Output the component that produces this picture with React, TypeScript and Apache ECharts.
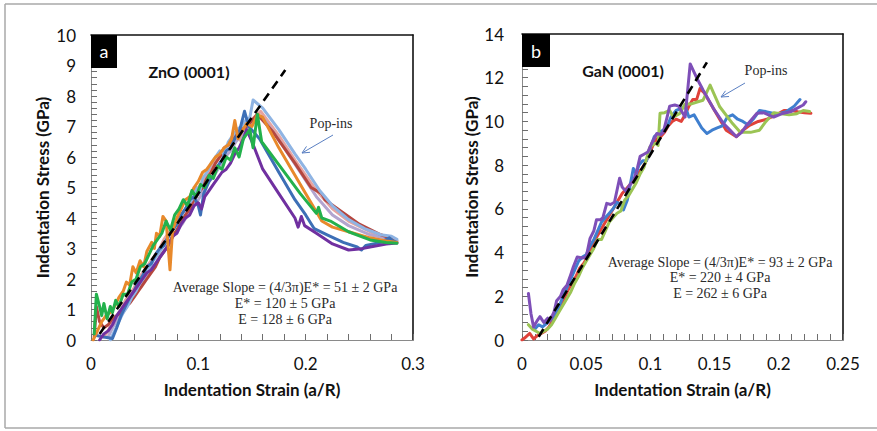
import React, { useEffect, useRef } from "react";
import * as echarts from "echarts";

// ---------- Panel a : ZnO (0001) ----------
const xTicksA = [0, 0.1, 0.2, 0.3];
const yTicksA = [0, 10];
const dashA: number[][] = [[0.008, 0.2], [0.181, 8.85]];

const purpleA: number[][] = [[0.008,0],[0.012,0.2],[0.016,0.3],[0.02,0.5],[0.024,0.8],[0.028,1.0],[0.032,1.2],[0.036,1.4],[0.04,1.6],[0.044,1.8],[0.048,2.0],[0.052,2.2],[0.056,2.3],[0.06,2.5],[0.064,2.7],[0.068,2.9],[0.072,3.1],[0.076,3.4],[0.08,3.5],[0.084,3.8],[0.088,4.0],[0.092,4.1],[0.096,4.4],[0.1,4.5],[0.103,4.3],[0.106,4.7],[0.11,4.9],[0.114,5.1],[0.118,5.3],[0.122,5.5],[0.126,5.6],[0.13,5.8],[0.134,6.1],[0.138,6.3],[0.142,6.6],[0.145,6.9],[0.15,6.5],[0.16,5.6],[0.175,4.8],[0.19,4.0],[0.193,3.7],[0.196,4.05],[0.199,3.75],[0.21,3.5],[0.225,3.15],[0.24,2.95],[0.25,2.98],[0.26,3.05],[0.275,3.15],[0.285,3.18]];
const blueA: number[][] = [[0.005,0.15],[0.012,0.1],[0.02,0.05],[0.024,0.4],[0.028,0.8],[0.032,1.1],[0.036,1.4],[0.04,1.6],[0.044,1.9],[0.048,2.1],[0.052,2.4],[0.056,2.5],[0.06,2.8],[0.064,3.0],[0.068,3.1],[0.072,3.4],[0.076,3.6],[0.08,3.8],[0.084,4.1],[0.088,4.3],[0.092,4.6],[0.096,4.7],[0.1,4.4],[0.102,4.1],[0.105,4.8],[0.11,5.2],[0.114,5.4],[0.118,5.7],[0.122,5.9],[0.126,6.2],[0.13,6.3],[0.134,6.6],[0.138,6.8],[0.143,7.5],[0.147,7.0],[0.157,6.6],[0.175,5.5],[0.19,4.6],[0.2,4.1],[0.208,3.65],[0.22,3.45],[0.235,3.2],[0.248,3.05],[0.252,2.95],[0.256,3.1],[0.27,3.2],[0.278,3.35],[0.281,3.25],[0.285,3.2]];
const greenA: number[][] = [[0.003,0.2],[0.005,1.5],[0.008,1.1],[0.01,0.8],[0.012,1.2],[0.015,0.7],[0.018,1.1],[0.02,0.9],[0.023,1.3],[0.026,1.1],[0.03,1.5],[0.034,1.5],[0.038,1.9],[0.042,2.0],[0.046,2.4],[0.05,2.5],[0.054,2.8],[0.058,3.1],[0.062,3.3],[0.066,3.5],[0.07,3.9],[0.074,3.6],[0.078,4.1],[0.082,4.3],[0.086,4.6],[0.09,4.4],[0.094,4.9],[0.098,4.7],[0.102,5.1],[0.106,5.0],[0.11,5.4],[0.114,5.3],[0.118,5.7],[0.122,5.6],[0.126,6.0],[0.13,5.9],[0.134,6.3],[0.138,6.0],[0.142,6.6],[0.148,6.9],[0.151,6.3],[0.155,7.4],[0.159,6.5],[0.176,5.7],[0.195,4.8],[0.21,4.15],[0.212,4.35],[0.215,4.0],[0.223,3.9],[0.24,3.55],[0.26,3.28],[0.275,3.2],[0.285,3.17]];
const orangeA: number[][] = [[0.002,0.0],[0.006,0.3],[0.01,0.6],[0.014,0.8],[0.018,0.9],[0.022,1.1],[0.026,1.4],[0.03,1.6],[0.033,1.9],[0.036,1.8],[0.039,2.4],[0.042,2.2],[0.0457,2.6],[0.049,2.4],[0.052,2.9],[0.0565,3.2],[0.059,3.0],[0.061,3.5],[0.064,3.4],[0.067,4.05],[0.07,3.9],[0.0736,2.3],[0.076,3.6],[0.08,4.0],[0.084,4.3],[0.088,4.6],[0.092,4.7],[0.096,5.0],[0.1,5.2],[0.104,5.5],[0.108,5.6],[0.112,5.8],[0.116,6.0],[0.12,6.1],[0.124,6.3],[0.128,6.4],[0.131,6.6],[0.134,7.2],[0.137,6.6],[0.14,6.8],[0.145,7.1],[0.15,7.0],[0.155,7.4],[0.16,7.3],[0.175,6.3],[0.19,5.4],[0.205,4.5],[0.215,3.9],[0.225,3.7],[0.24,3.55],[0.26,3.35],[0.275,3.25],[0.285,3.2]];
const lightBlueA: number[][] = [[0.018,0.0],[0.022,0.3],[0.026,0.6],[0.03,0.9],[0.034,1.1],[0.038,1.4],[0.042,1.6],[0.046,1.9],[0.05,2.1],[0.054,2.3],[0.058,2.6],[0.062,2.8],[0.066,3.0],[0.07,3.2],[0.074,3.5],[0.078,3.7],[0.082,3.9],[0.086,4.2],[0.09,4.4],[0.094,4.6],[0.098,5.0],[0.101,4.8],[0.104,5.3],[0.108,5.5],[0.112,5.8],[0.116,6.0],[0.12,6.2],[0.124,6.1],[0.128,6.5],[0.132,6.7],[0.136,6.9],[0.14,7.0],[0.144,7.2],[0.148,7.3],[0.151,7.87],[0.16,7.6],[0.175,6.9],[0.19,6.1],[0.2,5.6],[0.213,4.9],[0.225,4.4],[0.24,3.95],[0.255,3.65],[0.27,3.45],[0.28,3.4],[0.285,3.3]];
const salmonA: number[][] = [[0.012,0.1],[0.016,0.3],[0.02,0.6],[0.024,0.8],[0.028,1.0],[0.032,1.3],[0.036,1.5],[0.04,1.7],[0.044,2.0],[0.048,2.2],[0.052,2.4],[0.056,2.6],[0.06,2.8],[0.064,3.0],[0.068,3.3],[0.072,3.5],[0.076,3.7],[0.08,3.9],[0.084,4.1],[0.088,4.3],[0.092,4.5],[0.096,4.8],[0.1,5.0],[0.104,5.2],[0.108,5.4],[0.112,5.6],[0.116,5.9],[0.12,6.0],[0.124,6.2],[0.128,6.4],[0.132,6.6],[0.136,6.8],[0.14,6.5],[0.144,7.0],[0.148,7.2],[0.152,7.3],[0.158,7.5],[0.175,6.7],[0.19,5.9],[0.21,4.9],[0.225,4.3],[0.24,3.9],[0.26,3.55],[0.275,3.35],[0.285,3.25]];
const darkRedA: number[][] = [[0.003,0.1],[0.005,1.1],[0.008,0.6],[0.012,0.4],[0.016,0.5],[0.02,0.7],[0.024,0.8],[0.028,0.9],[0.032,1.1],[0.036,1.2],[0.04,1.4],[0.044,1.6],[0.048,1.8],[0.052,2.0],[0.056,2.2],[0.06,2.4],[0.064,2.7],[0.068,2.9],[0.072,3.1],[0.076,3.4],[0.08,3.6],[0.084,3.9],[0.088,4.1],[0.092,4.3],[0.096,4.6],[0.1,4.8],[0.104,5.0],[0.108,5.3],[0.112,5.5],[0.116,5.8],[0.12,6.0],[0.124,6.3],[0.128,6.4],[0.132,6.6],[0.136,6.8],[0.14,6.9],[0.145,7.0],[0.15,7.2],[0.155,7.4],[0.17,6.8],[0.19,5.8],[0.205,5.0],[0.215,4.8],[0.218,4.6],[0.23,4.3],[0.25,3.8],[0.27,3.45],[0.283,3.3]];
const lavenderA: number[][] = [[0.016,0.1],[0.02,0.4],[0.025,0.7],[0.03,0.9],[0.035,1.2],[0.04,1.5],[0.045,1.8],[0.05,2.0],[0.055,2.3],[0.06,2.5],[0.065,2.8],[0.07,3.0],[0.075,3.3],[0.08,3.6],[0.085,3.8],[0.09,4.1],[0.095,4.4],[0.1,4.6],[0.105,4.9],[0.11,5.2],[0.115,5.4],[0.12,5.7],[0.125,6.0],[0.13,6.2],[0.135,6.5],[0.14,6.7],[0.145,6.9],[0.15,7.1],[0.156,7.3],[0.162,7.2],[0.18,6.3],[0.195,5.5],[0.21,4.7],[0.225,4.1],[0.24,3.75],[0.26,3.45],[0.28,3.3],[0.285,3.25]];

// ---------- Panel b : GaN (0001) ----------
const dashB: number[][] = [[0.013, 0.15], [0.144, 12.7]];

const blueB: number[][] = [[0.01,0.5],[0.013,0.7],[0.016,0.6],[0.02,0.8],[0.024,1.0],[0.028,1.4],[0.032,2.0],[0.035,2.4],[0.038,2.8],[0.041,3.2],[0.044,3.6],[0.047,3.8],[0.05,3.9],[0.053,4.3],[0.056,4.6],[0.059,5.0],[0.062,5.4],[0.065,5.6],[0.068,5.8],[0.071,6.0],[0.074,6.3],[0.077,6.2],[0.079,5.95],[0.082,6.4],[0.0867,7.85],[0.089,7.6],[0.091,8.0],[0.094,8.2],[0.097,8.2],[0.1,8.8],[0.103,9.3],[0.107,9.5],[0.11,9.6],[0.113,9.75],[0.116,10.2],[0.12,10.5],[0.124,10.6],[0.127,10.7],[0.13,10.2],[0.134,10.3],[0.137,10.0],[0.14,9.7],[0.144,9.45],[0.148,9.6],[0.152,9.7],[0.156,9.8],[0.16,10.2],[0.164,10.3],[0.168,10.1],[0.172,10.0],[0.176,9.85],[0.18,10.1],[0.185,10.5],[0.19,10.45],[0.196,10.37],[0.2,10.35],[0.206,10.45],[0.212,10.7],[0.2165,11.0]];
const redB: number[][] = [[0.0,0.0],[0.002,0.09],[0.006,0.3],[0.009,0.05],[0.012,0.2],[0.015,0.3],[0.018,0.4],[0.021,0.6],[0.024,0.9],[0.027,1.2],[0.03,1.6],[0.033,1.9],[0.036,2.3],[0.039,2.6],[0.042,2.9],[0.045,3.3],[0.048,3.5],[0.051,3.8],[0.054,4.2],[0.057,4.6],[0.06,4.9],[0.063,5.2],[0.066,5.5],[0.069,5.8],[0.072,6.1],[0.075,6.4],[0.078,6.7],[0.081,6.9],[0.084,7.1],[0.087,7.3],[0.09,7.6],[0.093,7.8],[0.096,8.1],[0.099,8.5],[0.102,8.9],[0.105,9.2],[0.108,9.3],[0.111,9.5],[0.114,9.8],[0.117,10.0],[0.12,10.1],[0.124,10.0],[0.127,10.3],[0.13,10.7],[0.133,11.0],[0.136,11.0],[0.1386,11.5],[0.142,11.3],[0.146,10.9],[0.152,10.3],[0.159,9.6],[0.163,9.45],[0.167,9.3],[0.172,9.6],[0.1776,9.83],[0.184,10.0],[0.1906,10.1],[0.198,10.3],[0.204,10.5],[0.21,10.5],[0.2147,10.44],[0.22,10.4],[0.225,10.37]];
const greenB: number[][] = [[0.005,0.7],[0.008,0.5],[0.011,0.4],[0.014,0.3],[0.017,0.4],[0.02,0.5],[0.023,0.7],[0.026,1.0],[0.029,1.3],[0.032,1.6],[0.035,1.9],[0.038,2.2],[0.041,2.6],[0.044,2.9],[0.047,3.3],[0.05,3.6],[0.053,3.9],[0.056,4.2],[0.059,4.6],[0.062,4.6],[0.065,5.0],[0.068,5.4],[0.071,5.6],[0.074,5.8],[0.077,5.9],[0.08,6.4],[0.083,6.6],[0.086,6.9],[0.089,7.2],[0.092,7.6],[0.095,7.9],[0.0997,8.84],[0.104,9.0],[0.106,8.9],[0.1075,10.37],[0.111,10.4],[0.115,10.5],[0.118,10.2],[0.123,10.37],[0.127,10.8],[0.132,10.8],[0.137,10.9],[0.141,10.97],[0.1465,11.66],[0.154,10.67],[0.164,9.9],[0.17,9.5],[0.178,9.5],[0.185,9.6],[0.19,10.0],[0.196,10.4],[0.202,10.35],[0.208,10.3],[0.214,10.35],[0.219,10.5],[0.224,10.45]];
const purpleB: number[][] = [[0.005,2.13],[0.007,1.2],[0.009,0.6],[0.012,0.9],[0.014,1.07],[0.017,0.8],[0.02,1.0],[0.022,0.9],[0.025,1.3],[0.027,1.8],[0.03,2.0],[0.032,2.3],[0.035,2.5],[0.038,3.0],[0.04,3.35],[0.043,3.8],[0.047,3.75],[0.05,3.8],[0.053,4.65],[0.056,5.0],[0.058,5.5],[0.061,5.5],[0.063,5.6],[0.066,6.25],[0.069,6.2],[0.072,6.3],[0.076,7.4],[0.078,7.0],[0.081,6.8],[0.084,7.1],[0.087,7.3],[0.09,7.9],[0.092,8.4],[0.095,8.5],[0.098,8.6],[0.101,9.0],[0.105,9.45],[0.108,9.4],[0.11,9.5],[0.113,10.2],[0.115,10.7],[0.119,10.75],[0.122,10.7],[0.125,10.4],[0.127,10.2],[0.131,12.63],[0.136,12.0],[0.141,11.44],[0.149,10.6],[0.157,9.9],[0.162,9.6],[0.167,9.3],[0.171,9.5],[0.175,9.83],[0.179,10.1],[0.183,10.37],[0.188,10.4],[0.192,10.3],[0.196,10.2],[0.202,10.35],[0.209,10.44],[0.214,10.6],[0.219,10.75],[0.221,10.9]];

const fontSans = "Lato";
const fontSerif = "Liberation Serif";
const tickGray = "#6e6e6e";

function lineSeries(data: number[][], color: string, gi: number) {
  return {
    type: "line",
    xAxisIndex: gi,
    yAxisIndex: gi,
    data,
    showSymbol: false,
    symbol: "none",
    smooth: false,
    lineStyle: { color, width: 3, cap: "round", join: "round" },
    z: 3,
  };
}

function dashSeries(data: number[][], gi: number) {
  return {
    type: "line",
    xAxisIndex: gi,
    yAxisIndex: gi,
    data,
    showSymbol: false,
    symbol: "none",
    lineStyle: { color: "#000", width: 2.6, type: [9, 6] },
    z: 5,
  };
}

function mainAxis(gi: number, pos: string, max: number, interval: number, margin: number, nameGap: number, name: string) {
  const o: any = {
    type: "value",
    gridIndex: gi,
    position: pos,
    min: 0,
    max,
    interval,
    name,
    nameLocation: "middle",
    nameGap,
    nameTextStyle: { fontFamily: fontSans, fontWeight: "bold", fontSize: 17, color: "#111" },
    axisLine: { show: true, onZero: false, lineStyle: { color: "#8a8a8a" } },
    axisTick: { show: false },
    minorTick: { show: false },
    axisLabel: { fontFamily: fontSans, fontSize: 17, color: "#111", margin },
    splitLine: { show: false },
  };
  if (pos === "left") o.nameRotate = 90;
  return o;
}

// tick-only helper axis (same scale, inward major + minor ticks)
function tickAxis(gi: number, pos: string, max: number, interval: number) {
  return {
    type: "value",
    gridIndex: gi,
    position: pos,
    min: 0,
    max,
    interval,
    axisLine: { show: false, onZero: false },
    axisTick: { show: true, inside: true, length: 6, lineStyle: { color: tickGray } },
    minorTick: { show: true, splitNumber: 5, length: 6, lineStyle: { color: tickGray } },
    axisLabel: { show: false },
    splitLine: { show: false },
  };
}

function frameAxis(gi: number, pos: string, max: number) {
  return {
    type: "value", gridIndex: gi, position: pos, min: 0, max,
    axisLine: { show: true, onZero: false, lineStyle: { color: "#111", width: 1.6 } },
    axisTick: { show: false }, minorTick: { show: false }, axisLabel: { show: false }, splitLine: { show: false },
  };
}

function arrow(tail: number[], head: number[], w1: number[], w2: number[]) {
  const st = { stroke: "#5a7fc2", lineWidth: 1 };
  return [
    { type: "line", z: 20, shape: { x1: tail[0], y1: tail[1], x2: head[0], y2: head[1] }, style: st },
    { type: "polyline", z: 20, shape: { points: [w1, head, w2] }, style: st },
  ];
}

function txt(text: string, x: number, y: number, font: string, fill = "#2a2a2a") {
  return { type: "text", z: 20, x, y, style: { text, font, fill, align: "center", verticalAlign: "middle" } };
}

function frameLine(x1: number, y1: number, x2: number, y2: number) {
  return { type: "line", z: -5, silent: true, shape: { x1, y1, x2, y2 }, style: { stroke: "#a8a8a8", lineWidth: 1.5 } };
}

export default function App() {
  const ref = useRef<HTMLDivElement>(null);
  useEffect(() => {
    if (!ref.current) return;
    const chart = echarts.init(ref.current, undefined, { renderer: "svg" });
    const serif = `14px "${fontSerif}"`;
    const strainName = "Indentation Strain (a/R)";
    const stressName = "Indentation Stress (GPa)";
    const option: any = {
      animation: false,
      grid: [
        { left: 91, top: 35, width: 322, height: 305 },
        { left: 522, top: 34, width: 321, height: 306 },
      ],
      xAxis: [
        mainAxis(0, "bottom", xTicksA[3], 0.1, 15, 41, strainName),
        mainAxis(1, "bottom", 0.25, 0.05, 15, 41, strainName),
        frameAxis(0, "top", xTicksA[3]),
        frameAxis(1, "top", 0.25),
        tickAxis(0, "bottom", xTicksA[3], 0.1),
        tickAxis(1, "bottom", 0.25, 0.05),
      ],
      yAxis: [
        mainAxis(0, "left", yTicksA[1], 1, 15, 40, stressName),
        mainAxis(1, "left", 14, 2, 18, 39, stressName),
        frameAxis(0, "right", yTicksA[1]),
        frameAxis(1, "right", 14),
        tickAxis(0, "left", yTicksA[1], 1),
        tickAxis(1, "left", 14, 2),
      ],
      series: [
        lineSeries(salmonA, "#e6a3a0", 0),
        lineSeries(lavenderA, "#b3a5cf", 0),
        lineSeries(darkRedA, "#b5473f", 0),
        lineSeries(lightBlueA, "#8fb4e3", 0),
        lineSeries(blueA, "#3d6fb6", 0),
        lineSeries(purpleA, "#7030a0", 0),
        lineSeries(orangeA, "#e8892b", 0),
        lineSeries(greenA, "#23b14c", 0),
        dashSeries(dashA, 0),
        lineSeries(redB, "#e0423a", 1),
        lineSeries(blueB, "#3f7fcf", 1),
        lineSeries(greenB, "#9bc454", 1),
        lineSeries(purpleB, "#7e4fb8", 1),
        dashSeries(dashB, 1),
      ],
      graphic: [
        frameLine(5, 4, 877, 4),
        frameLine(5, 428, 877, 428),
        frameLine(5, 4, 5, 428),
        { type: "rect", z: 20, shape: { x: 91, y: 35, width: 26, height: 33 }, style: { fill: "#000" } },
        txt("a", 104, 51, `18px ${fontSans}`, "#fff"),
        { type: "rect", z: 20, shape: { x: 522, y: 34, width: 28, height: 33 }, style: { fill: "#000" } },
        txt("b", 536, 51, `18px ${fontSans}`, "#fff"),
        txt("ZnO (0001)", 189, 71, `bold 16px ${fontSans}`, "#111"),
        txt("GaN (0001)", 623, 70, `bold 16px ${fontSans}`, "#111"),
        txt("Pop-ins", 331, 123, serif),
        txt("Pop-ins", 766, 70, serif),
        ...arrow([333, 135], [302, 153], [310, 152.3], [306.5, 146.4]),
        ...arrow([745, 83], [721, 97], [729, 96.5], [725.5, 90.8]),
        txt("Average Slope = (4/3\u03c0)E* = 51 \u00b1 2 GPa", 285, 287, serif),
        txt("E* = 120 \u00b1 5 GPa", 285, 303, serif),
        txt("E = 128 \u00b1 6 GPa", 285, 319, serif),
        txt("Average Slope = (4/3\u03c0)E* = 93 \u00b1 2 GPa", 720, 262, serif),
        txt("E* = 220 \u00b1 4 GPa", 720, 277, serif),
        txt("E = 262 \u00b1 6 GPa", 720, 293, serif),
      ],
    };
    chart.setOption(option);
    return () => chart.dispose();
  }, []);
  return (
    <div
      ref={ref}
      style={{ position: "fixed", left: 0, top: 0, width: 877, height: 431, background: "#fff" }}
    />
  );
}
